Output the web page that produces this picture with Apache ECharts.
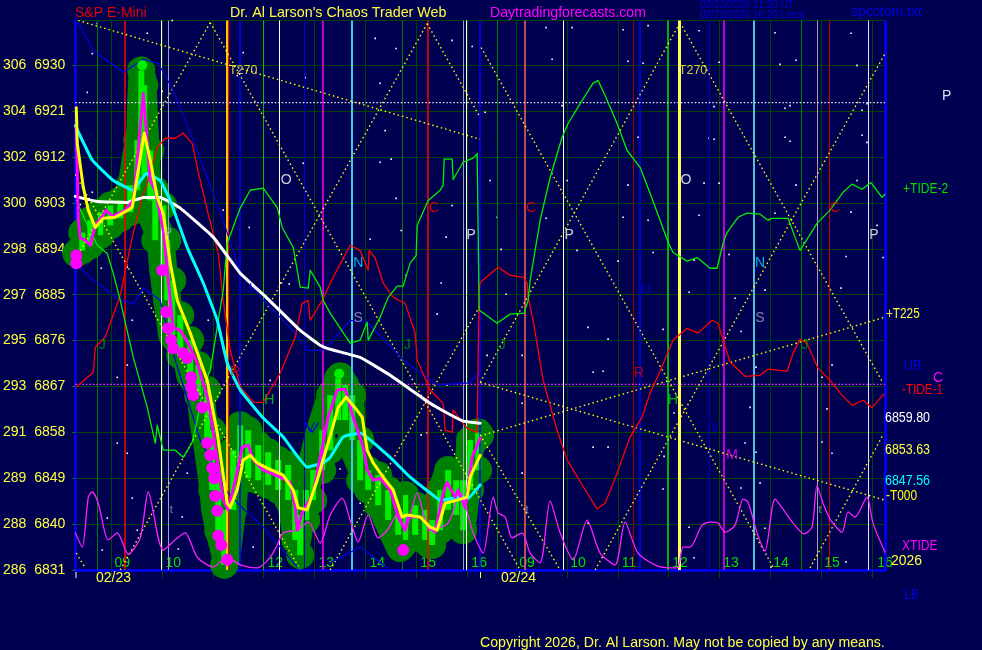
<!DOCTYPE html>
<html>
<head>
<meta charset="utf-8">
<style>html,body{margin:0;padding:0;background:#000050}#c{width:982px;height:650px}</style>
<script src="https://cdn.jsdelivr.net/npm/echarts@6/dist/echarts.min.js"></script>
</head>
<body>
<div id="c"></div>
<script>
// Price scale
const priceTicks = [6831,6840,6849,6858,6867,6876,6885,6894,6903,6912,6921,6930];
const sqrtTicks  = [286,288,289,291,293,295,297,298,300,302,304,306];
// Hour labels (bar position, text)
const hourBars = [47,98,150,200,251,302,353,404,452,503,554,605,656,706,757,810];
const hourText = ['09','10','11','12','13','14','15','16','09','10','11','12','13','14','15','16'];
const gridBars = [36,87,138,188,239,290,341,392,441,492,543,593,644,695,746,797];
// Price path (band centre) [bar, price]
const band = [[1,6893.1],[10,6894.7],[20,6897.2],[30,6900],[43,6901.6],[52,6903.5],[58,6908.4],[65,6917.2],[66,6923.1],[67,6927.4],[72,6906.1],[77,6900.2],[85,6896.7],[88,6889.8],[92,6883.9],[97,6877.1],[110,6874.1],[115,6869.2],[125,6866.3],[128,6860.4],[133,6854.5],[137,6848.6],[140,6842.8],[145,6837.9],[151,6833.4],[157,6842.8],[163,6855.5],[180,6853.5],[195,6851.6],[210,6849.6],[217,6842.8],[222,6836.9],[227,6843.7],[235,6850.6],[245,6858.4],[253,6863.3],[265,6869],[275,6864.3],[277,6855.5],[287,6850.6],[300,6846.7],[310,6841.8],[325,6835.3],[340,6838.8],[355,6835.9],[363,6844.7],[372,6849.6],[377,6846.7],[388,6841.2],[393,6850.6],[395,6855.5],[405,6857.5]];
// Bar ranges
const rangeBars = [7,15,25,35,45,55,62,66,69,75,80,88,92,97,105,115,123,132,137,143,149,158,165,173,183,193,203,213,220,225,231,238,247,255,263,270,277,285,293,303,313,323,330,340,350,357,365,373,381,388,395,403];
const rangeHigh = [6897.2,6899.6,6901.2,6902.5,6903.5,6906.5,6915.3,6929,6926.1,6913.3,6905.5,6902.5,6895.7,6887.8,6881,6876.1,6871.2,6866.3,6858.4,6850.6,6842.8,6854.5,6859.4,6858.4,6855.5,6854.1,6852.6,6851.6,6846.7,6841.8,6846.7,6850.6,6858.4,6865.3,6868.6,6867.3,6865.3,6856.5,6850.6,6849.6,6846.7,6841.8,6845.7,6843.7,6842.8,6840.8,6846.7,6850.6,6848.6,6848.6,6856.5,6858];
const rangeLow  = [6893.7,6894.7,6896.7,6898.6,6900,6901.2,6905.5,6911.4,6908.4,6903.5,6895.7,6889.8,6883.9,6877.1,6873.1,6869.2,6865.3,6856.5,6846.7,6838.8,6832,6842.8,6850.6,6849,6848.6,6847.7,6846.7,6844.7,6836.9,6833.9,6840.8,6844.7,6850.6,6854.5,6860.4,6860.4,6856.5,6848.6,6846.7,6843.7,6840.8,6837.9,6836.9,6837.9,6836.9,6835.9,6838.8,6842.8,6841.8,6838.8,6846.7,6850.6];
// Smoothed prices
const fastPrice = [[1,6917.8],[2,6909.4],[3,6899.6],[5,6896.1],[10,6895.7],[15,6894.7],[20,6898.6],[28,6900.6],[31,6901.6],[37,6900.4],[50,6901.6],[58,6903.5],[62,6911.4],[68,6924.5],[71,6917.2],[75,6907.4],[80,6905.5],[85,6900.6],[88,6897.6],[95,6883.9],[98,6878.6],[105,6878],[113,6875.5],[122,6871.6],[133,6864.3],[138,6857.9],[143,6851.2],[148,6844.7],[153,6842.8],[160,6848.6],[167,6855.1],[173,6855.5],[178,6852.6],[188,6850.6],[205,6849.2],[215,6848.2],[220,6843.3],[222,6838.8],[227,6842.2],[238,6846.1],[253,6861],[262,6866.3],[270,6866.5],[278,6861],[288,6855.1],[292,6850.6],[298,6848.6],[305,6849],[315,6846.7],[323,6841.4],[330,6838.8],[333,6841.4],[345,6841.4],[355,6839.4],[360,6838.4],[368,6846.1],[372,6848.2],[380,6845.3],[383,6846.7],[390,6843.2],[397,6853.1],[405,6856.9]];
const yellowMA = [[1,6921.7],[2,6914.7],[8,6906.1],[13,6901.6],[20,6898.2],[28,6900],[40,6900.2],[57,6902.1],[65,6911.9],[69,6916.7],[75,6911.4],[82,6904.1],[88,6901],[95,6891.2],[102,6883.9],[115,6877.5],[132,6868.2],[142,6857.9],[152,6844.1],[155,6843.3],[162,6846.7],[168,6852.6],[175,6853.5],[182,6852],[192,6851],[208,6849.6],[218,6846.7],[223,6843.2],[232,6842.8],[242,6848.6],[255,6857.3],[263,6862.9],[271,6864.9],[280,6862.8],[287,6861],[292,6854.5],[298,6852],[308,6849.2],[318,6846.7],[327,6841.4],[332,6841.8],[345,6841.4],[355,6839.4],[362,6838.8],[370,6844.1],[382,6844.7],[392,6845.3],[395,6849.2],[405,6853.5]];
const cyanMA = [[0,6918.2],[17,6911.4],[38,6907.4],[58,6905.5],[71,6908.8],[85,6907.4],[95,6903.5],[112,6894.3],[128,6887.3],[142,6880],[152,6871.6],[165,6866.3],[188,6860.8],[208,6857.1],[232,6851.2],[248,6852],[255,6853.1],[268,6857.1],[285,6857.9],[315,6853.1],[335,6849.2],[355,6846.1],[365,6844.7],[385,6845.3],[392,6844.9],[405,6847.7]];
const whiteMA = [[0,6904.3],[22,6903.3],[52,6903.1],[68,6904.1],[85,6904.1],[105,6902],[138,6896.3],[165,6889.2],[192,6884.3],[225,6878],[245,6875.1],[255,6874.3],[285,6872.7],[315,6869.2],[355,6863.7],[372,6861.8],[388,6860.2],[405,6859.8]];
// Forecast tides
const tideMinus = [[1,6866.9],[18,6869.8],[20,6874.7],[30,6876.7],[45,6884.9],[57,6896.3],[67,6904.1],[72,6906.9],[82,6913.9],[90,6915.7],[100,6915.7],[108,6916.7],[117,6914.7],[122,6910],[132,6901.6],[143,6893.1],[148,6883.9],[155,6874.1],[165,6866.9],[178,6863.9],[188,6863.9],[205,6869.6],[220,6876.7],[227,6883.3],[233,6883.9],[235,6880],[247,6883.9],[260,6889.2],[275,6894.7],[285,6893.7],[293,6889.8],[294,6893.7],[300,6892.2],[308,6887.3],[318,6884.5],[330,6883.3],[340,6877.5],[342,6872.2],[355,6866.3],[368,6863.7],[370,6858.4],[377,6858],[378,6862.4],[392,6858.8],[402,6858],[403,6872.2],[404,6885.9],[405,6887.4],[423,6890.4],[435,6888.8],[448,6888.4],[452,6887.3],[453,6884.5],[458,6880],[468,6868.2],[482,6858.4],[492,6852.6],[512,6846.1],[522,6843],[530,6844.1],[542,6850],[555,6857.1],[567,6861],[575,6865.7],[585,6870],[598,6876.1],[612,6878.4],[623,6877.5],[637,6880],[643,6879.4],[648,6876.1],[655,6871.8],[670,6869],[685,6869.2],[693,6870.4],[712,6870],[718,6873.5],[725,6876.3],[732,6875.5],[743,6870.6],[755,6868.2],[767,6865.3],[777,6863.3],[788,6864.3],[797,6862.9],[809,6865.5]];
const tidePlus = [[1,6903.5],[10,6899.6],[22,6894.7],[32,6893.1],[38,6889.2],[45,6883.9],[58,6872.7],[72,6862.9],[80,6855.9],[82,6859.4],[88,6854.5],[100,6854.5],[108,6853.1],[117,6856.1],[122,6860.4],[128,6866.9],[135,6870.2],[148,6885.9],[152,6895.1],[165,6902],[175,6905.5],[188,6905.9],[202,6902.1],[207,6898.2],[218,6894.3],[225,6886.5],[233,6886.3],[235,6889.8],[245,6886.5],[248,6883.9],[255,6881.4],[275,6875.5],[285,6876.1],[292,6879.6],[293,6876.1],[305,6880.6],[313,6884.5],[322,6886.7],[328,6886.7],[335,6891.2],[341,6892.7],[342,6898.6],[353,6903.5],[365,6905.5],[368,6906.5],[369,6911.6],[377,6911.6],[378,6907.6],[388,6911],[398,6911.8],[402,6912.7],[403,6897.6],[404,6882],[422,6879.4],[435,6881.2],[449,6881.4],[453,6883.9],[455,6887.8],[465,6899.6],[475,6908],[487,6915.9],[493,6918.6],[505,6922.5],[518,6926.5],[523,6927],[530,6924.1],[542,6918.6],[552,6913.3],[565,6910],[575,6904.9],[585,6899.6],[593,6895.3],[598,6893.3],[612,6891.6],[622,6892.3],[635,6890.2],[642,6890.2],[648,6895.1],[652,6897.2],[663,6900.2],[672,6901],[685,6900.8],[693,6899.6],[697,6900],[713,6900],[720,6896.3],[725,6893.7],[742,6899],[755,6901.6],[768,6905.1],[777,6906.7],[787,6905.7],[796,6907],[807,6904.1],[810,6904.7]];
const upperBand = [[3,6938.4],[18,6932.9],[48,6928.6],[68,6931.2],[83,6930.4],[98,6925.1],[115,6916.7],[132,6908],[148,6899.6],[165,6889.2],[188,6883.9],[215,6878.6],[233,6874.1],[247,6874.1],[255,6875.5],[275,6880],[292,6879.6],[328,6872.2],[362,6867.3],[395,6867.7],[403,6869.8]];
const lowerBandA = [[0,6891.2],[15,6888.4],[42,6884.3],[58,6883.1],[68,6886.3],[85,6883.9],[100,6872.2],[125,6856.5],[150,6846.7],[167,6843.2],[188,6839.4],[222,6831.6]];
const lowerBandB = [[230,6859.8],[237,6858],[243,6859.8]];
const lowerBandC = [[255,6832.4],[285,6835.5],[312,6831.4]];
const xTide = [[0,6838.3],[7,6835.5],[13,6845.3],[17,6846.3],[23,6844.1],[33,6836.9],[42,6838.3],[53,6834.1],[65,6837.3],[73,6846.3],[88,6834.9],[102,6837.3],[110,6838.3],[122,6833.5],[138,6831.6],[152,6833.5],[165,6832],[182,6831.4],[195,6833.5],[202,6835.9],[208,6838.3],[222,6838.8],[233,6840.4],[245,6836.3],[255,6841.8],[267,6845.1],[275,6840.8],[283,6836.5],[293,6841.8],[303,6837.3],[312,6838.8],[323,6842.2],[330,6838.8],[342,6846.1],[355,6838.8],[373,6840.2],[385,6846.1],[398,6838.3],[408,6834.3],[418,6845.3],[423,6842.2],[430,6841.4],[437,6837.3],[447,6838.3],[455,6834.3],[465,6832.4],[475,6844.5],[485,6838.3],[498,6833],[512,6840.8],[525,6834.3],[540,6832],[550,6840.4],[563,6834.3],[585,6831.6],[602,6831.4],[608,6835.5],[615,6835.5],[627,6839.8],[635,6840.4],[643,6840.2],[650,6838.4],[660,6839.8],[668,6844.9],[673,6844.3],[682,6838.3],[690,6834.7],[700,6844.9],[712,6841.8],[718,6840.2],[729,6838.1],[737,6839.4],[742,6847.5],[748,6844.1],[755,6841],[767,6838.4],[773,6842.4],[780,6841.4],[792,6845.3],[798,6840.2],[810,6834.5]];
// Big swing markers
const dotBars   = [1,1,87,91,93,96,98,108,112,116,116,118,127,132,135,137,139,140,142,143,146,152,328];
const dotPrices = [6892.7,6891.2,6889.8,6881.6,6878.4,6876.1,6874.5,6873.5,6872.6,6868.8,6866.9,6865.3,6862.9,6855.9,6853.5,6851,6849,6845.5,6842.6,6837.7,6835.9,6833,6834.9];
const peakDots = [[67,6930],[264,6869.5]];
// Dotted level lines
const whiteLevel = 6922.7, magentaLevel = 6867.4;
// Dotted time-price trend segments
const dottedSegments = [
 [[3,6938.8],[405,6915.5]],[[405,6867.8],[810,6844.7]],[[405,6857.3],[810,6880.6]],
 [[45,6831],[352,6938.2]],[[135,6938.4],[0,6891.8]],[[0,6908.6],[225,6831]],[[135,6938.4],[445,6831]],
 [[352,6938.2],[405,6919.8]],[[405,6857.5],[485,6831]],[[255,6831],[405,6882.9]],[[405,6867.8],[605,6938.4]],
 [[406,6933.5],[698,6831.6]],[[520,6831],[810,6932.3]],[[605,6938.4],[808,6867.7]],[[735,6831.4],[808,6857.5]],
 [[1,6834.3],[10,6831.4]]
];
// Vertical event lines
const eventBars   = [22,49,86,93,152,153,165,188,204,229,248,277,327,353,388,391,405,422,450,488,558,565,593,604,634,649,679,726,742,754,793];
const eventColors = ['#008000','#ff0000','#ffffff','#a0a0c0','#ffc800','#ff0000','#0000ff','#00c000','#ffffff','#0000d0','#ff00ff','#40c8e8','#008000','#ff0000','#a0a0c0','#ffffff','#0000ff','#008000','#ff6060','#ffffff','#a00000','#0000ff','#00e000','#ffff60','#0000d0','#ff00ff','#50c0d8','#008000','#a0a0c0','#d00000','#e0e0ff'];
const eventWidths = [1,1.5,1,1,2,1,1.5,1,1,1,1.5,2,1,1.5,1,1,1.5,1,1.5,1,1,1.5,1.5,3,1,1.5,2,1,1,1,1];
// In-plot letters
const letterText  = ['J','J','J','J','H','H','R','R','O','O','P','P','P','P','C','C','C','N','N','S','S','U','U','t','t','t','V','V','M','T270','T270'];
const letterBars  = [27,332,427,730,194,598,160,564,211,611,93,396,494,799,359,456,760,283,685,283,685,172,571,96,452,745,235,640,657,168,618];
const letterPrice = [6875.1,6875.1,6875.1,6875.1,6864.3,6864.3,6869.8,6869.6,6907.4,6907.4,6897.1,6896.7,6896.7,6896.7,6902,6902,6902,6891.2,6891.2,6880.4,6880.4,6886.1,6885.9,6842.8,6842.8,6842.8,6858.8,6858.8,6853.5,6929,6929];
const letterColor = ['#00a000','#00a000','#00a000','#00a000','#00e000','#00e000','#e00000','#e00000','#ffffff','#ffffff','#c0c0d0','#ffffff','#ffffff','#ffffff','#ff0000','#ff0000','#ff0000','#00e0ff','#00e0ff','#a0a0c0','#a0a0c0','#0000e0','#0000e0','#a0a0c0','#a0a0c0','#a0a0c0','#0000e0','#0000e0','#ff00ff','#ffff40','#ffff40'];
// Background specks
const specks = [[22,6938.2],[97,6938.8],[72,6936.3],[168,6932.5],[17,6932.3],[162,6928],[12,6924.7],[78,6927.4],[87,6924.9],[230,6927.6],[228,6910.8],[153,6910],[5,6902.7],[17,6905.1],[148,6901.6],[174,6898.2],[26,6890.2],[52,6890.4],[248,6898],[214,6887.1],[205,6887.3],[57,6880],[42,6868.8],[133,6880],[195,6868.2],[52,6871.2],[42,6855.9],[52,6853.9],[112,6850],[57,6845.1],[32,6841.2],[107,6841.4],[62,6838.8],[27,6834.9],[103,6835.1],[178,6835.5],[300,6935.3],[321,6933.3],[377,6934.9],[397,6933.7],[477,6931.2],[548,6937],[553,6930.8],[568,6930.4],[573,6937.8],[471,6937.4],[497,6937.4],[305,6926.5],[305,6911],[316,6911.6],[410,6920.8],[415,6907.4],[487,6922.1],[563,6915.9],[553,6906.5],[492,6907.4],[422,6900.2],[471,6900],[548,6900.2],[573,6899.6],[578,6893.3],[295,6895.9],[326,6897.6],[371,6896.3],[377,6902.5],[321,6903.9],[310,6917.2],[502,6893.7],[366,6887.3],[431,6885.1],[543,6891.6],[331,6888.8],[426,6893.9],[624,6936.8],[644,6930.6],[700,6936.4],[705,6930.2],[721,6931],[776,6936.3],[782,6930],[639,6921.9],[710,6921.6],[715,6922.1],[787,6921.2],[792,6922.5],[634,6915.7],[639,6915.5],[710,6915.9],[715,6915.1],[787,6916.3],[792,6914.9],[629,6906.9],[644,6906.9],[721,6906.5],[782,6907.4],[776,6901.2],[624,6900.6],[700,6901],[802,6898.6],[654,6892.9],[771,6892.5],[808,6892.3],[619,6891.8],[614,6885.5],[660,6884.3],[690,6885.9],[766,6886.3],[588,6878.2],[666,6877.8],[675,6862.9],[752,6862.6],[757,6871.2],[681,6870.8],[747,6868.8],[599,6861.8],[589,6853.3],[670,6855.9],[681,6854.1],[757,6853.9],[747,6856.1],[685,6848.1],[666,6847.1],[588,6846.9],[614,6839.4],[690,6839.2],[619,6833.4],[771,6832.6],[696,6831.6],[362,6881.2],[513,6878.6],[533,6876.3],[518,6869.8],[528,6870],[412,6873.1],[372,6867.3],[447,6873.1],[447,6863.7],[352,6857.9],[346,6857.5],[518,6855.1],[533,6855.1],[265,6850.8],[447,6850],[285,6844.1],[513,6840.2]];
// Texts outside the plot: text, x, y, colour, size, horizontal squeeze
const outerText = [
 ['S&P E-Mini',75,13,'#e00000',14,1],["Dr. Al Larson's Chaos Trader Web",230,13,'#ffff40',14.3,1],['Daytradingforecasts.com',490,13,'#ff00ff',14.1,1],
 ['02/23/2026 21:20 UT',700,5.5,'#0000e0',10,1],['02/23/2026 16:20 Local',700,15.5,'#0000e0',10,1],['spcctom.txt',851,12,'#0000e0',14,1],
 ['P',942,96,'#e0e0f0',14,1],['+TIDE-2',903,189,'#00e000',14,0.86],['+T225',886,314,'#ffff40',14,0.84],['UB',904,366,'#0000e0',14,0.88],['C',933,378,'#ff00ff',14,1],
 ['-TIDE-1',902,390,'#ff0000',14,0.84],['6859.80',885,418,'#ffffff',14,0.89],['6853.63',885,450,'#ffff40',14,0.89],['6847.56',885,481,'#00ffff',14,0.89],['-T000',886,496,'#ffff00',14,0.85],
 ['XTIDE',902,546,'#ff00ff',14,0.86],['2026',891,561,'#ffff40',14,1],['LB',904,595,'#0000e0',14,0.88],
 ['02/23',96,578.5,'#ffff40',14,1],['02/24',501,578.5,'#ffff40',14,1],
 ['Copyright 2026, Dr. Al Larson. May not be copied by any means.',480,643,'#ffff40',14.15,1]
];

const gapped = dottedSegments.flatMap(s => [s[0], s[1], ['-','-']]);
const rangeEnds = rangeBars.flatMap((b,i) => [[b,rangeHigh[i]],[b,rangeLow[i]]]);
const lineSeries = (name,data,color,width,z,extra) => Object.assign({name,type:'line',data,symbol:'none',z,animation:false,silent:true,
  lineStyle:{color,width,cap:'round',join:'round'}},extra||{});

const chart = echarts.init(document.getElementById('c'),null,{renderer:'canvas'});
chart.setOption({
  animation:false,
  backgroundColor:'#000050',
  grid:{left:75,right:97,top:20.5,bottom:80,show:true,borderColor:'#0000ff',borderWidth:1,backgroundColor:'transparent'},
  xAxis:{type:'value',min:0,max:810,
    axisLine:{onZero:false,lineStyle:{color:'#0000ff',width:2.5}},
    axisTick:{show:true,length:8,customValues:gridBars,lineStyle:{color:'#004400',width:1}},
    splitLine:{show:true,lineStyle:{color:'#004400',width:1}},
    axisLabel:{show:true,inside:true,margin:0,customValues:hourBars,color:'#00e000',fontFamily:'Liberation Sans',fontSize:14,
      hideOverlap:false,showMinLabel:true,showMaxLabel:true,
      formatter:v=>{const i=hourBars.indexOf(v);return i<0?'':hourText[i];}}},
  yAxis:{type:'value',min:6831,max:6938.8,interval:9,
    axisLine:{show:true,onZero:false,lineStyle:{color:'#0000ff',width:2.5}},
    axisTick:{show:true,length:3,lineStyle:{color:'#008000'}},
    splitLine:{show:true,lineStyle:{color:'#004400',width:1}},
    axisLabel:{color:'#ffff40',fontFamily:'Liberation Sans',fontSize:14,margin:10,padding:[0,0,7,0],showMaxLabel:false,
      formatter:v=>{const i=priceTicks.indexOf(v);return i<0?'':sqrtTicks[i]+'  '+v;}}},
  graphic:{elements:outerText.map(t=>({type:'text',silent:true,z:50,x:t[1],y:t[2],scaleX:t[5],style:{text:t[0],x:0,y:0,fill:t[3],
      font:t[4]+'px "Liberation Sans"',textVerticalAlign:'middle',verticalAlign:'middle'}}))
    .concat([{type:'rect',silent:true,shape:{x:75.5,y:572,width:1,height:6},style:{fill:'#ffffff'}},
             {type:'rect',silent:true,shape:{x:480,y:572,width:1,height:6},style:{fill:'#ffff40'}}])},
  series:[
    {type:'scatter',name:'specks',data:specks,symbol:'rect',symbolSize:1.6,z:1,silent:true,animation:false,itemStyle:{color:'#ffffff',opacity:1}},
    lineSeries('band',band,'#008000',28,2,{clip:false}),
    {type:'scatter',name:'bandDots',data:rangeEnds,symbolSize:28,z:2,clip:false,silent:true,animation:false,itemStyle:{color:'#008000',opacity:1}},
    {type:'custom',name:'range',z:3,silent:true,animation:false,clip:false,data:rangeBars.map((b,i)=>[b,rangeHigh[i],rangeLow[i]]),
      renderItem:(p,api)=>{const a=api.coord([api.value(0),api.value(1)]),b=api.coord([api.value(0),api.value(2)]);
        return {type:'rect',shape:{x:a[0]-3,y:a[1],width:6,height:b[1]-a[1]},style:{fill:'#00f000'}};}},
    {type:'line',name:'events',data:[],z:4,silent:true,animation:false,
      markLine:{silent:true,symbol:'none',animation:false,label:{show:false},
        data:eventBars.map((b,i)=>({xAxis:b,lineStyle:{color:eventColors[i],width:eventWidths[i],type:'solid'}}))
          .concat([{xAxis:810,lineStyle:{color:'#0000ff',width:2.5,type:'solid'}}])}},
    lineSeries('levelW',[[0,whiteLevel],[810,whiteLevel]],'#e8e8ff',1.3,5,{lineStyle:{color:'#e8e8ff',width:1.3,type:[1.5,2]}}),
    lineSeries('levelM',[[0,magentaLevel],[810,magentaLevel]],'#ff40ff',1.3,5,{lineStyle:{color:'#ff40ff',width:1.3,type:[1.5,2]}}),
    lineSeries('trends',gapped,'#ffff00',1.3,5,{connectNulls:false,lineStyle:{color:'#ffff00',width:1.4,type:[1.5,3]}}),
    lineSeries('upperBand',upperBand,'#0000e0',1.2,6),
    lineSeries('lowerA',lowerBandA,'#0000e0',1.2,6),
    lineSeries('lowerB',lowerBandB,'#0000e0',1.2,6),
    lineSeries('lowerC',lowerBandC,'#0000e0',1.2,6),
    lineSeries('xTide',xTide,'#ff20ff',1.3,6,{smooth:0.25}),
    lineSeries('tideMinus',tideMinus,'#ff0000',1.3,6),
    lineSeries('tidePlus',tidePlus,'#00f000',1.3,6),
    lineSeries('white',whiteMA,'#ffffff',3,7,{smooth:0.1}),
    lineSeries('cyan',cyanMA,'#00ffff',3,7,{smooth:0.1}),
    {type:'scatter',name:'dots',data:dotBars.map((b,i)=>[b,dotPrices[i]]),symbolSize:12,z:8,clip:false,silent:true,animation:false,itemStyle:{color:'#ff00ff',opacity:1}},
    {type:'scatter',name:'peaks',data:peakDots,symbolSize:10,z:8,clip:false,silent:true,animation:false,itemStyle:{color:'#00f000',opacity:1}},
    lineSeries('fast',fastPrice,'#ff00ff',3,9),
    lineSeries('yellow',yellowMA,'#ffff00',3,10),
    {type:'scatter',name:'letters',z:12,silent:true,animation:false,symbolSize:1,itemStyle:{color:'transparent'},
      data:letterBars.map((b,i)=>({value:[b,letterPrice[i]],
        label:{show:true,position:'inside',formatter:letterText[i],color:letterColor[i],fontFamily:'Liberation Sans',fontSize:letterText[i]==='t'||i===10?11:letterText[i]==='T270'?12.5:14}}))}
  ]
});
</script>
</body>
</html>
